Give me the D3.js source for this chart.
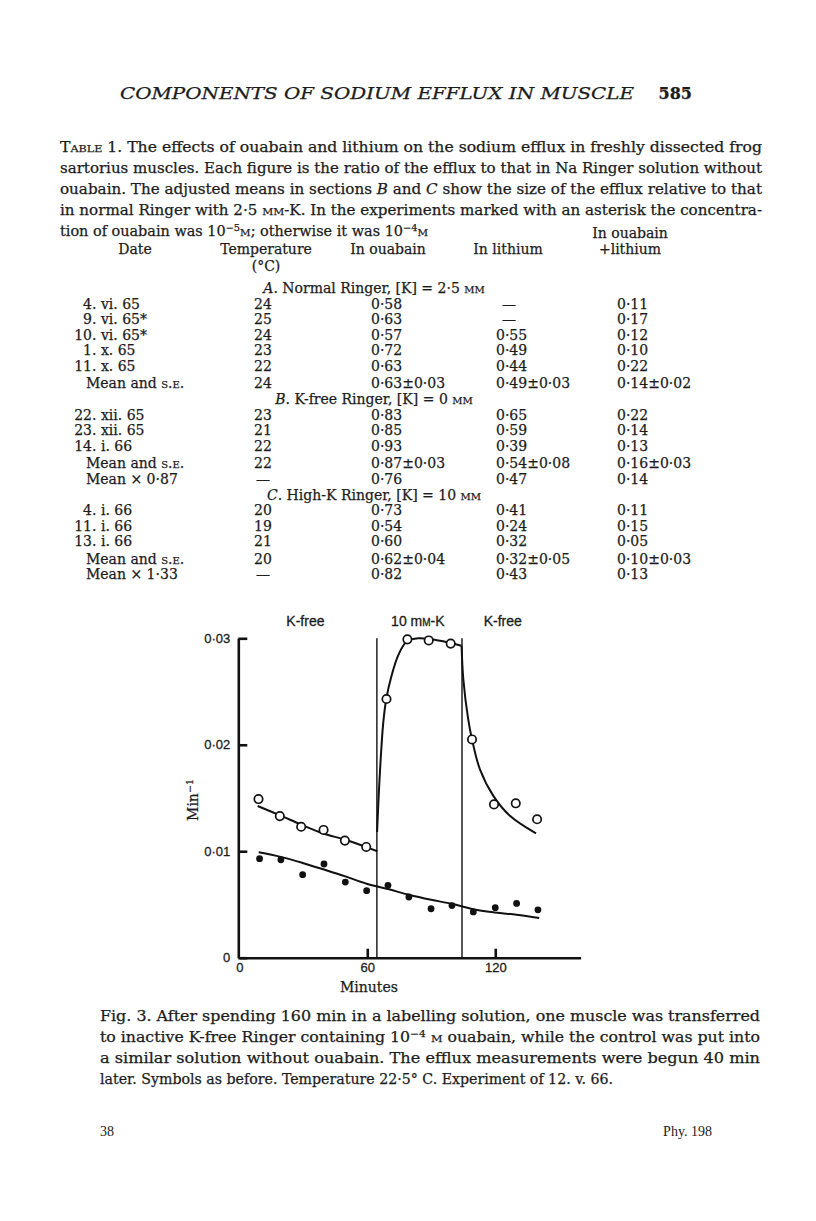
<!DOCTYPE html>
<html>
<head>
<meta charset="utf-8">
<script src="https://cdn.jsdelivr.net/npm/d3@7"></script>
<style>
  body { margin: 0; background: #fff; }
  text { fill: #1c1c1c; }
  text.ink { stroke: #1c1c1c; stroke-width: 0.25; }
</style>
</head>
<body>
<div id="page"></div>
<script>
// ---- page text ----
const headerTitle = "COMPONENTS OF SODIUM EFFLUX IN MUSCLE";
const pageNumber = "585";
const tableCaption = [
    "T<sc>able</sc> 1. The effects of ouabain and lithium on the sodium efflux in freshly dissected frog",
    "sartorius muscles. Each figure is the ratio of the efflux to that in Na Ringer solution without",
    "ouabain. The adjusted means in sections <i>B</i> and <i>C</i> show the size of the efflux relative to that",
    "in normal Ringer with 2·5 <sc>mm</sc>-K. In the experiments marked with an asterisk the concentra-",
    "tion of ouabain was 10<sup>−5</sup><sc>m</sc>; otherwise it was 10<sup>−4</sup><sc>m</sc>"
];
const figCaption = [
    "Fig. 3. After spending 160 min in a labelling solution, one muscle was transferred",
    "to inactive K-free Ringer containing 10<sup>−4</sup> <sc>m</sc> ouabain, while the control was put into",
    "a similar solution without ouabain. The efflux measurements were begun 40 min",
    "later. Symbols as before. Temperature 22·5° C. Experiment of 12. v. 66."
];

// ---- table ----
const sectionTitles = [
    "<i>A</i>. Normal Ringer, [K] = 2·5 <sc>mm</sc>",
    "<i>B</i>. K-free Ringer, [K] = 0 <sc>mm</sc>",
    "<i>C</i>. High-K Ringer, [K] = 10 <sc>mm</sc>"
];
const rowSection = [0, 0, 0, 0, 0, 0, 1, 1, 1, 1, 1, 2, 2, 2, 2, 2];
const rowDate = ["4. vi. 65", "9. vi. 65*", "10. vi. 65*", "1. x. 65", "11. x. 65", "Mean and <sc>s.e.</sc>",
    "22. xii. 65", "23. xii. 65", "14. i. 66", "Mean and <sc>s.e.</sc>", "Mean × 0·87",
    "4. i. 66", "11. i. 66", "13. i. 66", "Mean and <sc>s.e.</sc>", "Mean × 1·33"];
const rowTemp = ["24", "25", "24", "23", "22", "24", "23", "21", "22", "22", "—", "20", "19", "21", "20", "—"];
const rowOuabain = ["0·58", "0·63", "0·57", "0·72", "0·63", "0·63±0·03", "0·83", "0·85", "0·93", "0·87±0·03", "0·76",
    "0·73", "0·54", "0·60", "0·62±0·04", "0·82"];
const rowLithium = ["—", "—", "0·55", "0·49", "0·44", "0·49±0·03", "0·65", "0·59", "0·39", "0·54±0·08", "0·47",
    "0·41", "0·24", "0·32", "0·32±0·05", "0·43"];
const rowBoth = ["0·11", "0·17", "0·12", "0·10", "0·22", "0·14±0·02", "0·22", "0·14", "0·13", "0·16±0·03", "0·14",
    "0·11", "0·15", "0·05", "0·10±0·03", "0·13"];

// ---- figure data (minutes, efflux min^-1) ----
const openMinutes = [9, 19, 29, 39.5, 49.5, 59.5, 69, 78.8, 88.8, 99.1, 109.1, 119.4, 129.6, 139.6];
const openValues = [0.0149, 0.0133, 0.0123, 0.0120, 0.0110, 0.0104, 0.0243, 0.0299, 0.0298, 0.0295, 0.0205, 0.0144, 0.0145, 0.0130];
const filledMinutes = [9.5, 19.5, 29.7, 39.7, 49.7, 59.7, 69.7, 79.5, 89.9, 99.7, 109.7, 120, 130, 140];
const filledValues = [0.0093, 0.0092, 0.0078, 0.0088, 0.0071, 0.0063, 0.0068, 0.0057, 0.0046, 0.0049, 0.0043, 0.0047, 0.0051, 0.0045];
// hand-drawn curves
const fitOuabainKfree = [[8.6, 0.01425], [19.1, 0.01337], [29, 0.0125], [39.4, 0.01167], [49.4, 0.0111], [59.4, 0.01041], [64.7, 0.0100]];
const fitOuabainHighK = [[64.6, 0.0118], [65.3, 0.0150], [66.0, 0.0177], [67.5, 0.0221], [68.9, 0.0243], [71.4, 0.0265],
    [74.5, 0.0284], [78.5, 0.0297], [84, 0.0300], [90, 0.0299], [98, 0.0296], [104.2, 0.0293]];
const fitOuabainBack = [[104.2, 0.0293], [105, 0.0262], [107.3, 0.0224], [109.1, 0.0205], [112.8, 0.0177], [119.1, 0.0152],
    [127, 0.0133], [139.1, 0.01167]];
const fitControl = [[9.1, 0.0099], [19.4, 0.00947], [29.7, 0.0089], [39.7, 0.00828], [49.7, 0.00764], [59.7, 0.00695],
    [69.7, 0.00645], [79.5, 0.00591], [89.9, 0.00544], [99.7, 0.00506], [109.7, 0.00456], [120, 0.00425], [130, 0.00403], [140.6, 0.00372]];
const solutionChanges = [64.5, 104.4];
const phaseLabels = ["K-free", "10 m<sc>m</sc>-K", "K-free"];
const phaseLabelAt = [31, 83.7, 123.5];
const xTicks = [0, 60, 120];
const yTicks = [0, 0.01, 0.02, 0.03];

const W = 816, H = 1221;
const serif = "'DejaVu Serif', serif";
const sans = "'Liberation Sans', Arial, sans-serif";

const svg = d3.select("#page").append("svg")
    .attr("width", W)
    .attr("height", H)
    .style("display", "block");

// small markup: <i>, <sc>, <sup>
function rich(textSel, str) {
    const parts = str.split(/(<\/?(?:i|sc|sup)>)/);
    const on = { i: false, sc: false, sup: false };
    let dy = 0;
    parts.forEach(p => {
        const m = p.match(/^<(\/?)(i|sc|sup)>$/);
        if (m) {
            const open = !m[1];
            if (m[2] === "sup") dy += open ? -5 : 5;
            on[m[2]] = open;
            return;
        }
        if (!p) return;
        const t = textSel.append("tspan").text(p);
        if (dy) { t.attr("dy", dy); dy = 0; }
        if (on.i) t.style("font-style", "italic");
        if (on.sc) t.style("font-variant", "small-caps");
        if (on.sup) t.style("font-size", "0.68em");
    });
    return textSel;
}

function line(x, y, str, opts = {}) {
    const t = svg.append("text")
        .attr("class", opts.family ? null : "ink")
        .attr("x", x).attr("y", y)
        .attr("font-family", opts.family || serif)
        .attr("font-size", opts.size || 14)
        .attr("text-anchor", opts.anchor || "start");
    if (opts.length) t.attr("textLength", opts.length).attr("lengthAdjust", "spacingAndGlyphs");
    return rich(t, str);
}

// ---- running head ----
line(120, 99, headerTitle, { size: 16, length: 514 }).style("font-style", "italic");
line(692, 99, pageNumber, { size: 16, anchor: "end" }).style("font-weight", "bold");

// ---- table caption ----
const captionWidths = [702, 702, 702, 702, 368];
tableCaption.forEach((s, i) => {
    line(60, 152 + i * 21, s, { length: captionWidths[i] });
});

// ---- table head ----
const col = { date: 92, temp: 263, ouabain: 371, lithium: 496, both: 617 };
line(630, 238, "In ouabain", { anchor: "middle" });
line(135, 254, "Date", { anchor: "middle" });
line(266, 254, "Temperature", { anchor: "middle" });
line(266, 271, "(°C)", { anchor: "middle" });
line(388, 254, "In ouabain", { anchor: "middle" });
line(508, 254, "In lithium", { anchor: "middle" });
line(630, 254, "+lithium", { anchor: "middle" });

// ---- table body ----
let y = 293, prevSection = -1;
rowDate.forEach((d, i) => {
    if (rowSection[i] !== prevSection) {
        if (prevSection >= 0) y += 16;
        line(374, y, sectionTitles[rowSection[i]], { anchor: "middle" });
        prevSection = rowSection[i];
    }
    y += 15.6;
    if (d.startsWith("Mean and")) y += 1.5;
    if (d.startsWith("Mean")) {
        line(86, y, d);
    } else {
        const k = d.indexOf(".");
        line(col.date, y, d.slice(0, k), { anchor: "end" });
        line(col.date, y, d.slice(k));
    }
    line(col.temp, y, rowTemp[i], { anchor: "middle" });
    const cell = (x, v) => v === "—" ? line(x + 13, y, v, { anchor: "middle" }) : line(x, y, v);
    cell(col.ouabain, rowOuabain[i]);
    cell(col.lithium, rowLithium[i]);
    cell(col.both, rowBoth[i]);
});

// ---- figure ----
const x = d3.scaleLinear().domain([0, 160]).range([239.3, 580.6]);
const yS = d3.scaleLinear().domain([0, 0.03]).range([957.7, 638.3]);
const fig = svg.append("g");

const yFmt = d => d === 0 ? "0" : d3.format(".2f")(d).replace(".", "·");

const yAxis = fig.append("g")
    .attr("transform", `translate(${x(0) - 1},0)`)
    .call(d3.axisLeft(yS).tickValues(yTicks).tickSize(-9).tickSizeOuter(0).tickPadding(8).tickFormat(yFmt));
const xAxis = fig.append("g")
    .attr("transform", `translate(0,${yS(0)})`)
    .call(d3.axisBottom(x).tickValues(xTicks).tickSize(-9).tickSizeOuter(0).tickPadding(5).tickFormat(d3.format("d")));
[yAxis, xAxis].forEach(a => {
    a.select(".domain").attr("stroke", "#111").attr("stroke-width", 2.6);
    a.selectAll(".tick line").attr("stroke", "#111").attr("stroke-width", 2.6);
    a.selectAll(".tick text").attr("font-family", sans).attr("font-size", 13).attr("fill", "#1c1c1c")
        .attr("stroke", "#1c1c1c").attr("stroke-width", 0.3);
});
xAxis.selectAll(".tick").filter(d => d === 0).select("line").remove();

// solution changes
fig.selectAll("line.change").data(solutionChanges).join("line")
    .attr("class", "change")
    .attr("x1", d => x(d)).attr("x2", d => x(d))
    .attr("y1", yS(0.03)).attr("y2", yS(0))
    .attr("stroke", "#111").attr("stroke-width", 1.4);

phaseLabels.forEach((s, i) => {
    line(x(phaseLabelAt[i]), 626, s, { family: sans, size: 14, anchor: "middle" })
        .attr("stroke", "#1c1c1c").attr("stroke-width", 0.3);
});

// curves
const curve = d3.line().x(d => x(d[0])).y(d => yS(d[1])).curve(d3.curveCatmullRom.alpha(0.5));
[fitOuabainKfree, fitOuabainHighK, fitOuabainBack, fitControl].forEach(c => {
    fig.append("path").datum(c)
        .attr("d", curve)
        .attr("fill", "none").attr("stroke", "#111").attr("stroke-width", 2);
});

// points
fig.selectAll("circle.filled").data(filledMinutes).join("circle")
    .attr("class", "filled")
    .attr("cx", d => x(d)).attr("cy", (d, i) => yS(filledValues[i]))
    .attr("r", 3.4).attr("fill", "#111");
fig.selectAll("circle.open").data(openMinutes).join("circle")
    .attr("class", "open")
    .attr("cx", d => x(d)).attr("cy", (d, i) => yS(openValues[i]))
    .attr("r", 4.2).attr("fill", "#fff").attr("stroke", "#111").attr("stroke-width", 1.7);

// axis titles
line(369, 992, "Minutes", { size: 14, anchor: "middle" });
line(0, 0, "Min<sup>−1</sup>", { size: 14, anchor: "middle" })
    .attr("transform", "translate(198,800) rotate(-90)");

// ---- figure caption ----
const figCaptionWidths = [660, 660, 660, 513];
figCaption.forEach((s, i) => {
    line(100, 1021 + i * 21, s, { length: figCaptionWidths[i] });
});

// ---- foot of page ----
line(100, 1136, "38", { family: "'Liberation Serif', serif", size: 14 });
line(712, 1136, "Phy. 198", { family: "'Liberation Serif', serif", size: 14, anchor: "end" });
</script>
</body>
</html>
